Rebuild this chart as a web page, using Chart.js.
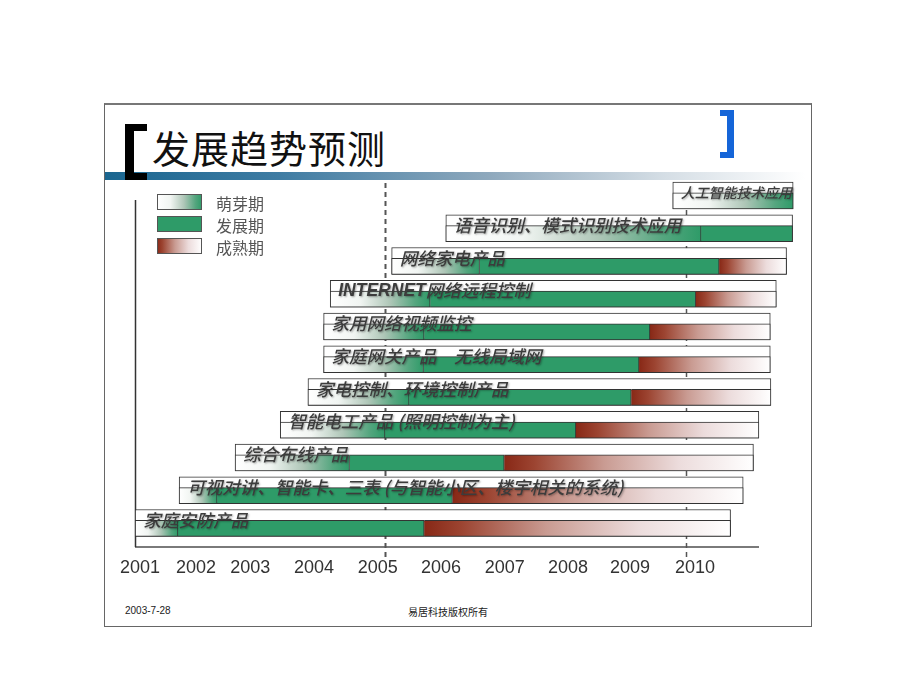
<!DOCTYPE html>
<html>
<head>
<meta charset="utf-8">
<script src="https://cdn.jsdelivr.net/npm/chart.js@4.4.1/dist/chart.umd.min.js"></script>
<style>
html,body{margin:0;padding:0;background:#fff;}
#page{position:relative;width:920px;height:690px;overflow:hidden;background:#fff;}
#slide{position:absolute;left:104px;top:103px;width:706px;height:521px;border:1px solid #666;border-top:2px solid #777;}
#band{position:absolute;left:105px;top:172px;width:700px;height:8px;background:linear-gradient(to right,#1a6690 0%,#3f7ca3 25%,#8fa9bd 55%,#d5dee5 80%,rgba(255,255,255,0) 100%);}
.bk{position:absolute;background:#000;}
.bb{position:absolute;background:#1565d8;}
#title{position:absolute;left:152px;top:128px;font-family:"Noto Sans CJK SC",sans-serif;font-size:38px;line-height:38px;letter-spacing:1px;color:#111;white-space:nowrap;}
#foot1{position:absolute;left:125px;top:605px;font-family:"Liberation Sans",Arial,sans-serif;font-size:10px;color:#222;}
#foot2{position:absolute;left:408px;top:604px;font-family:"Noto Sans CJK SC",sans-serif;font-size:10px;color:#222;}
#c{position:absolute;left:0;top:0;}
</style>
</head>
<body>
<div id="page">
  <div id="slide"></div>
  <div id="band"></div>
  <div class="bk" style="left:125px;top:124px;width:9px;height:56px;"></div>
  <div class="bk" style="left:125px;top:124px;width:22px;height:7px;"></div>
  <div class="bk" style="left:125px;top:173px;width:22px;height:7px;"></div>
  <div class="bb" style="left:720px;top:110px;width:13px;height:6px;"></div>
  <div class="bb" style="left:727px;top:110px;width:7px;height:48px;"></div>
  <div class="bb" style="left:720px;top:152px;width:13px;height:6px;"></div>
  <div id="title">发展趋势预测</div>
  <div id="foot1">2003-7-28</div>
  <div id="foot2">易居科技版权所有</div>
  <canvas id="c" width="920" height="690"></canvas>
</div>
<script>
// ---- data (top row first) ----
const rowLabels = [
  '人工智能技术应用',
  '语音识别、模式识别技术应用',
  '网络家电产品',
  'INTERNET网络远程控制',
  '家用网络视频监控',
  '家庭网关产品　无线局域网',
  '家电控制、环境控制产品',
  '智能电工产品 (照明控制为主)',
  '综合布线产品',
  '可视对讲、智能卡、三表 (与智能小区、楼宇相关的系统)',
  '家庭安防产品'
];
const boxStart    = [2009.78, 2006.01, 2005.11, 2004.09, 2003.98, 2003.98, 2003.72, 2003.26, 2002.51, 2001.58, 2000.85];
const boxEnd      = [2011.78, 2011.77, 2011.67, 2011.50, 2011.40, 2011.40, 2011.41, 2011.21, 2011.12, 2010.95, 2010.74];
const devStart    = [null,    2010.25, 2006.57, 2005.75, 2005.65, 2005.64, 2005.40, 2005.00, 2004.41, 2002.21, 2001.56];
const matureStart = [null,    null,    2010.55, 2010.16, 2009.40, 2009.22, 2009.09, 2008.17, 2006.98, 2006.12, 2005.65];
const seriesNames = ['萌芽期', '发展期', '成熟期'];
const yearLabels   = ['2001','2002','2003','2004','2005','2006','2007','2008','2009','2010'];
const yearLabelPos = [2000.93, 2001.86, 2002.76, 2003.82, 2004.88, 2005.93, 2006.99, 2008.04, 2009.07, 2010.15];
const markerYears  = [2005, 2010];
const axisRange    = [2000.855, 2011.196];

// ---- styles / layout ----
const GREEN = '#2e9b68';
const sproutStops = [[0,'#ffffff'],[0.3,'#f1f5f2'],[0.6,'#aec6b7'],[0.85,'#55a67f'],[1,GREEN]];
const matureStops = [[0,'#882816'],[0.12,'#9c4431'],[0.4,'#c99b92'],[0.7,'#ecdcdc'],[1,'#ffffff']];
const ROW_SHIFT = 0.165;
const AREA = {left: 135.5, right: 758, top: 200, bottom: 547};

function hGrad(stops, fallback){
  return (ctx) => {
    if (ctx.type !== 'data') return fallback;
    const c = ctx.chart, xs = c.scales.x;
    if (!xs || !c.chartArea || !ctx.raw) return fallback;
    const x0 = xs.getPixelForValue(ctx.raw.x[0]), x1 = xs.getPixelForValue(ctx.raw.x[1]);
    if (!isFinite(x0) || !isFinite(x1) || x1 === x0) return fallback;
    const g = c.ctx.createLinearGradient(x0, 0, x1, 0);
    stops.forEach(([o, col]) => g.addColorStop(o, col));
    return g;
  };
}

const boxData = rowLabels.map((_, i) => ({x: [boxStart[i], boxEnd[i]], y: i}));
const sproutData = rowLabels.map((_, i) => ({x: [boxStart[i], devStart[i] ?? boxEnd[i]], y: i + ROW_SHIFT}));
const devData = rowLabels.map((_, i) => i).filter(i => devStart[i] != null)
  .map(i => ({x: [devStart[i], matureStart[i] ?? boxEnd[i]], y: i + ROW_SHIFT}));
const matureData = rowLabels.map((_, i) => i).filter(i => matureStart[i] != null)
  .map(i => ({x: [matureStart[i], boxEnd[i]], y: i + ROW_SHIFT}));

const common = {grouped: false, clip: false, borderSkipped: false, borderColor: '#333'};

const overlay = {
  id: 'overlay',
  beforeDatasetsDraw(chart){
    const {ctx, chartArea: a, scales: {x}} = chart;
    ctx.save();
    ctx.strokeStyle = '#555';
    ctx.setLineDash([5, 4]);
    markerYears.forEach((v, k) => {
      const px = Math.round(x.getPixelForValue(v)) + 0.5;
      ctx.lineWidth = k === 0 ? 2 : 1.5;
      ctx.beginPath(); ctx.moveTo(px, a.top - 17); ctx.lineTo(px, a.bottom + 14); ctx.stroke();
    });
    ctx.setLineDash([]);
    ctx.strokeStyle = '#333'; ctx.lineWidth = 1.5;
    ctx.beginPath(); ctx.moveTo(a.left, a.top); ctx.lineTo(a.left, a.bottom); ctx.stroke();
    ctx.restore();
  },
  afterDatasetsDraw(chart){
    const {ctx, scales: {x, y}} = chart;
    ctx.save();
    ctx.textBaseline = 'middle'; ctx.textAlign = 'left';
    rowLabels.forEach((t, i) => {
      const x0 = x.getPixelForValue(boxStart[i]) + 8;
      const avail = x.getPixelForValue(boxEnd[i]) - x0 - 1;
      const m = t.match(/^[A-Za-z]+/);
      const latin = m ? m[0] : '';
      const rest = t.slice(latin.length);
      let size = 17.5;
      const fLat = s => `italic bold ${s}px "Liberation Sans", Arial, sans-serif`;
      const fCjk = s => `italic 500 ${s}px "Noto Sans CJK SC", sans-serif`;
      const measure = s => { ctx.font = fLat(s); const w1 = latin ? ctx.measureText(latin).width : 0; ctx.font = fCjk(s); return w1 + ctx.measureText(rest).width; };
      const w = measure(size);
      if (w > avail) size = size * avail / w;
      const yc = y.getPixelForValue(i) - 3;
      ctx.shadowColor = 'rgba(0,0,0,0.35)'; ctx.shadowBlur = 2; ctx.shadowOffsetX = 1; ctx.shadowOffsetY = 1;
      ctx.fillStyle = '#3c3c3c';
      let cx = x0;
      if (latin) { ctx.font = fLat(size); ctx.fillText(latin, cx, yc); cx += ctx.measureText(latin).width; }
      ctx.font = fCjk(size); ctx.fillText(rest, cx, yc);
    });
    ctx.restore();

    // legend
    ctx.save();
    const lx = 157, ly = 194, lw = 45, lh = 16, gap = 22;
    const fills = [
      () => { const g = ctx.createLinearGradient(lx, 0, lx + lw, 0); sproutStops.forEach(([o, c]) => g.addColorStop(o, c)); return g; },
      () => GREEN,
      () => { const g = ctx.createLinearGradient(lx, 0, lx + lw, 0); matureStops.forEach(([o, c]) => g.addColorStop(o, c)); return g; }
    ];
    seriesNames.forEach((name, k) => {
      const top = ly + k * gap;
      ctx.fillStyle = fills[k]();
      ctx.fillRect(lx, top, lw, lh);
      ctx.strokeStyle = '#555'; ctx.lineWidth = 1;
      ctx.strokeRect(lx + 0.5, top + 0.5, lw - 1, lh - 1);
      ctx.fillStyle = '#555';
      ctx.font = '16px "Noto Sans CJK SC", sans-serif';
      ctx.textBaseline = 'middle'; ctx.textAlign = 'left';
      ctx.fillText(name, 216, top + lh / 2 + 2);
    });
    ctx.restore();
  }
};

const chart = new Chart(document.getElementById('c'), {
  type: 'bar',
  data: {
    datasets: [
      Object.assign({label: 'box', data: boxData, backgroundColor: '#ffffff', borderWidth: 1, barThickness: 27, order: 2}, common),
      Object.assign({label: seriesNames[0], data: sproutData, backgroundColor: hGrad(sproutStops, '#9cc3ad'), borderWidth: 1, barThickness: 16, order: 1}, common),
      Object.assign({label: seriesNames[1], data: devData, backgroundColor: GREEN, borderWidth: {top: 1, bottom: 1, left: 0, right: 1}, barThickness: 16, order: 1}, common),
      Object.assign({label: seriesNames[2], data: matureData, backgroundColor: hGrad(matureStops, '#c99b92'), borderWidth: {top: 1, bottom: 1, left: 0, right: 1}, barThickness: 16, order: 1}, common)
    ]
  },
  options: {
    indexAxis: 'y',
    responsive: false,
    devicePixelRatio: 1,
    animation: false,
    layout: {padding: {left: AREA.left, right: 920 - AREA.right, top: AREA.top, bottom: 111}},
    plugins: {legend: {display: false}, tooltip: {enabled: false}},
    scales: {
      x: {
        type: 'linear', min: axisRange[0], max: axisRange[1], offset: false,
        afterBuildTicks: s => { s.ticks = yearLabelPos.map(v => ({value: v})); },
        ticks: {autoSkip: false, maxRotation: 0, minRotation: 0, padding: 10, color: '#333',
          font: {family: '"Liberation Sans", Arial, sans-serif', size: 18},
          callback: (v, i) => yearLabels[i]},
        grid: {display: false, drawTicks: false, offset: false},
        border: {display: true, color: '#7a7a7a', width: 2}
      },
      y: {type: 'linear', reverse: true, min: 0.137, max: 10.733, offset: false, grid: {offset: false}, display: false}
    }
  },
  plugins: [overlay]
});

// nudge the layout padding so the plot area lands exactly on AREA
const ca = chart.chartArea;
const p = chart.options.layout.padding;
chart.options.layout.padding = {
  left: p.left + (AREA.left - ca.left),
  right: p.right + (ca.right - AREA.right),
  top: p.top + (AREA.top - ca.top),
  bottom: p.bottom + (ca.bottom - AREA.bottom)
};
chart.update();
</script>
</body>
</html>
